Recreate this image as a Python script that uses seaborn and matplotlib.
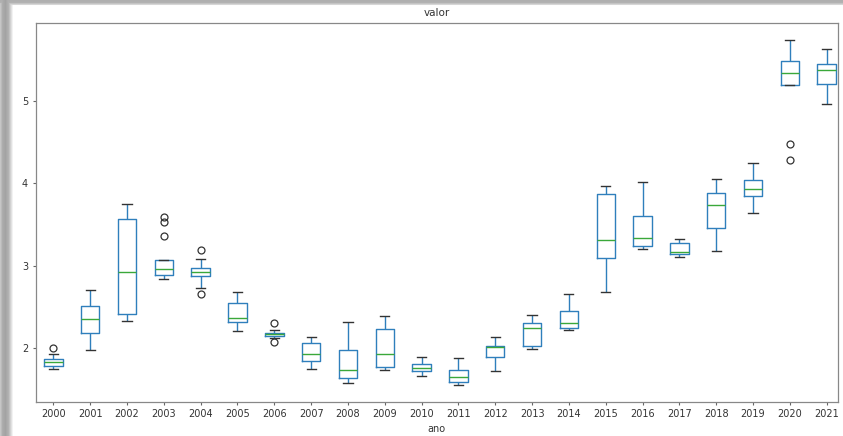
import numpy as np
import pandas as pd
import matplotlib
matplotlib.use("Agg")
import matplotlib.pyplot as plt
import seaborn as sns

# Monthly values ("valor") for each year ("ano")
anos = list(range(2000, 2022))
valor_2000 = [1.75, 1.77, 1.79, 1.79, 1.81, 1.83, 1.83, 1.85, 1.865, 1.865, 1.93, 2.00]
valor_2001 = [1.98, 2.12, 2.19, 2.19, 2.28, 2.36, 2.36, 2.44, 2.51, 2.51, 2.60, 2.70]
valor_2002 = [2.33, 2.37, 2.41, 2.41, 2.65, 2.92, 2.92, 3.25, 3.57, 3.57, 3.66, 3.75]
valor_2003 = [2.84, 2.87, 2.89, 2.89, 2.93, 2.96, 2.96, 2.97, 2.973, 3.36, 3.53, 3.59]
valor_2004 = [2.66, 2.73, 2.87, 2.87, 2.90, 2.92, 2.92, 2.95, 2.97, 2.97, 3.08, 3.19]
valor_2005 = [2.21, 2.27, 2.32, 2.32, 2.35, 2.37, 2.37, 2.46, 2.55, 2.55, 2.62, 2.68]
valor_2006 = [2.08, 2.13, 2.15, 2.15, 2.16, 2.17, 2.17, 2.18, 2.19, 2.19, 2.22, 2.31]
valor_2007 = [1.75, 1.80, 1.84, 1.84, 1.89, 1.93, 1.93, 2.00, 2.06, 2.06, 2.10, 2.14]
valor_2008 = [1.58, 1.61, 1.64, 1.64, 1.69, 1.74, 1.74, 1.86, 1.98, 1.98, 2.15, 2.32]
valor_2009 = [1.74, 1.75, 1.77, 1.77, 1.85, 1.93, 1.93, 2.08, 2.23, 2.23, 2.31, 2.39]
valor_2010 = [1.66, 1.70, 1.73, 1.73, 1.75, 1.76, 1.76, 1.79, 1.81, 1.81, 1.85, 1.89]
valor_2011 = [1.55, 1.57, 1.59, 1.59, 1.62, 1.65, 1.65, 1.70, 1.74, 1.74, 1.81, 1.88]
valor_2012 = [1.73, 1.81, 1.89, 1.89, 1.96, 2.02, 2.02, 2.025, 2.03, 2.03, 2.09, 2.14]
valor_2013 = [1.99, 2.01, 2.03, 2.03, 2.14, 2.24, 2.24, 2.27, 2.30, 2.30, 2.35, 2.40]
valor_2014 = [2.22, 2.23, 2.24, 2.24, 2.28, 2.31, 2.31, 2.38, 2.45, 2.45, 2.56, 2.66]
valor_2015 = [2.68, 2.90, 3.09, 3.09, 3.20, 3.31, 3.31, 3.60, 3.87, 3.87, 3.92, 3.97]
valor_2016 = [3.20, 3.22, 3.24, 3.24, 3.29, 3.33, 3.33, 3.46, 3.60, 3.60, 3.80, 4.01]
valor_2017 = [3.11, 3.12, 3.14, 3.14, 3.15, 3.17, 3.17, 3.22, 3.28, 3.28, 3.30, 3.32]
valor_2018 = [3.18, 3.32, 3.46, 3.46, 3.60, 3.74, 3.74, 3.81, 3.88, 3.88, 3.96, 4.05]
valor_2019 = [3.64, 3.74, 3.84, 3.84, 3.88, 3.93, 3.93, 3.98, 4.04, 4.04, 4.14, 4.24]
valor_2020 = [4.28, 4.47, 5.19, 5.19, 5.26, 5.33, 5.33, 5.40, 5.48, 5.48, 5.61, 5.74]
valor_2021 = [4.96, 5.08, 5.20, 5.20, 5.29, 5.37, 5.37, 5.41, 5.45, 5.45, 5.54, 5.63]

series = [valor_2000, valor_2001, valor_2002, valor_2003, valor_2004, valor_2005,
          valor_2006, valor_2007, valor_2008, valor_2009, valor_2010, valor_2011,
          valor_2012, valor_2013, valor_2014, valor_2015, valor_2016, valor_2017,
          valor_2018, valor_2019, valor_2020, valor_2021]
yticks = [2, 3, 4, 5]

df = pd.DataFrame(
    [(str(a), v) for a, vals in zip(anos, series) for v in vals],
    columns=["ano", "valor"],
)

W, H = 843, 436
fig = plt.figure(figsize=(W / 100, H / 100), dpi=100)

# soft drop shadow along the left and top edges of the canvas
bg = np.ones((H, W, 3))
xs = np.arange(W)
ys = np.arange(H)
left_prof = np.interp(xs, [0, 2, 5, 8, 10, 12, 13], [0.78, 0.68, 0.64, 0.70, 0.82, 0.95, 1.0])
top_prof = np.interp(ys, [0, 3, 5, 6], [0.68, 0.70, 0.84, 1.0])
shade = np.minimum(left_prof[None, :], top_prof[:, None])
bg *= shade[:, :, None]
bax = fig.add_axes([0, 0, 1, 1], zorder=-10)
bax.imshow(bg, aspect="auto", interpolation="bilinear")
bax.set_axis_off()

ax = fig.add_axes([35.7 / W, 1 - 401.7 / H, (837.7 - 35.7) / W, (401.7 - 22.7) / H])

lw = 1.0
sns.boxplot(
    data=df, x="ano", y="valor", ax=ax,
    fill=False, width=0.5, whis=1.5, color="#2f7fbc", linewidth=lw,
    medianprops=dict(color="#3aa83a", linewidth=lw),
    capprops=dict(color="#333333", linewidth=lw),
    whiskerprops=dict(color="#2f7fbc", linewidth=lw),
    flierprops=dict(marker="o", markerfacecolor="none", markeredgecolor="#333333",
                    markersize=5, markeredgewidth=0.9),
)

ax.set_xlim(-0.48, 21.3)
ax.set_ylim(1.352, 5.945)
ax.set_yticks(yticks)
ax.set_yticklabels([str(t) for t in yticks])
for s in ax.spines.values():
    s.set_color("#888888")
    s.set_linewidth(0.9)
ax.tick_params(axis="both", labelsize=7, colors="#666666", labelcolor="#333333",
               length=2.5, width=0.8, pad=3)
ax.set_title("valor", fontsize=7.5, color="#333333", pad=5)
ax.set_xlabel("ano", fontsize=7, color="#333333", labelpad=3)
ax.set_ylabel("")

fig.savefig("out.png", dpi=100)
